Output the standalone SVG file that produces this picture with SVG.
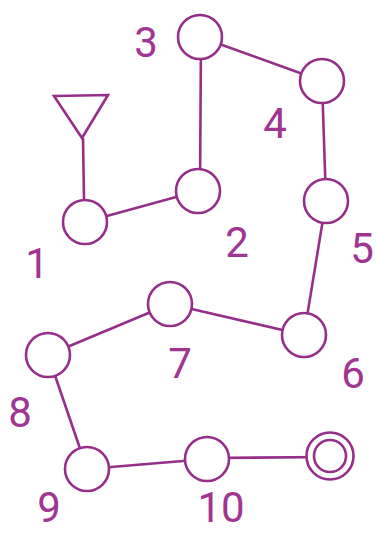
<svg xmlns="http://www.w3.org/2000/svg" width="376" height="534" viewBox="0 0 376 534">
<style>
.n{fill:#fff;stroke:#952f89;stroke-width:2.6}
.e{stroke:#952f89;stroke-width:2.6;fill:none}
.t{font-family:Roboto,"Liberation Sans",sans-serif;font-size:42px;fill:#a03592;text-anchor:middle}
</style>
<rect width="376" height="534" fill="#fff"/>
<g id="connectors">
<line class="e" x1="83" y1="138" x2="84" y2="200"/>
<line class="e" x1="85" y1="222" x2="198" y2="191"/>
<line class="e" x1="201" y1="37" x2="200" y2="191"/>
<line class="e" x1="200" y1="37" x2="322" y2="81"/>
<line class="e" x1="322" y1="81" x2="326" y2="201"/>
<line class="e" x1="326" y1="201" x2="304" y2="335"/>
<line class="e" x1="304" y1="335" x2="170" y2="304"/>
<line class="e" x1="170" y1="304" x2="48" y2="355"/>
<line class="e" x1="48" y1="355" x2="87" y2="469"/>
<line class="e" x1="87" y1="469" x2="207" y2="459"/>
<line class="e" x1="207" y1="458" x2="330" y2="457"/>
</g>
<g id="start"><polygon class="n" points="54,96 108,95 82,138"/></g>
<g id="n1"><circle class="n" cx="85" cy="222" r="22"/><text class="t" x="37" y="278">1</text></g>
<g id="n2"><circle class="n" cx="198" cy="191" r="22"/><text class="t" x="237" y="257">2</text></g>
<g id="n3"><circle class="n" cx="200" cy="37" r="22"/><text class="t" x="146" y="57">3</text></g>
<g id="n4"><circle class="n" cx="322" cy="81" r="22"/><text class="t" x="275" y="138">4</text></g>
<g id="n5"><circle class="n" cx="326" cy="201" r="22"/><text class="t" x="362" y="263">5</text></g>
<g id="n6"><circle class="n" cx="304" cy="335" r="22"/><text class="t" x="353" y="388">6</text></g>
<g id="n7"><circle class="n" cx="170" cy="304" r="22"/><text class="t" x="180" y="378">7</text></g>
<g id="n8"><circle class="n" cx="48" cy="355" r="22"/><text class="t" x="20" y="427">8</text></g>
<g id="n9"><circle class="n" cx="87" cy="469" r="22"/><text class="t" x="49" y="522">9</text></g>
<g id="n10"><circle class="n" cx="207" cy="459" r="22"/><text class="t" x="221" y="522">10</text></g>
<g id="final"><circle class="n" cx="330" cy="456" r="23.5"/><circle class="n" cx="330" cy="456" r="16"/></g>
</svg>
